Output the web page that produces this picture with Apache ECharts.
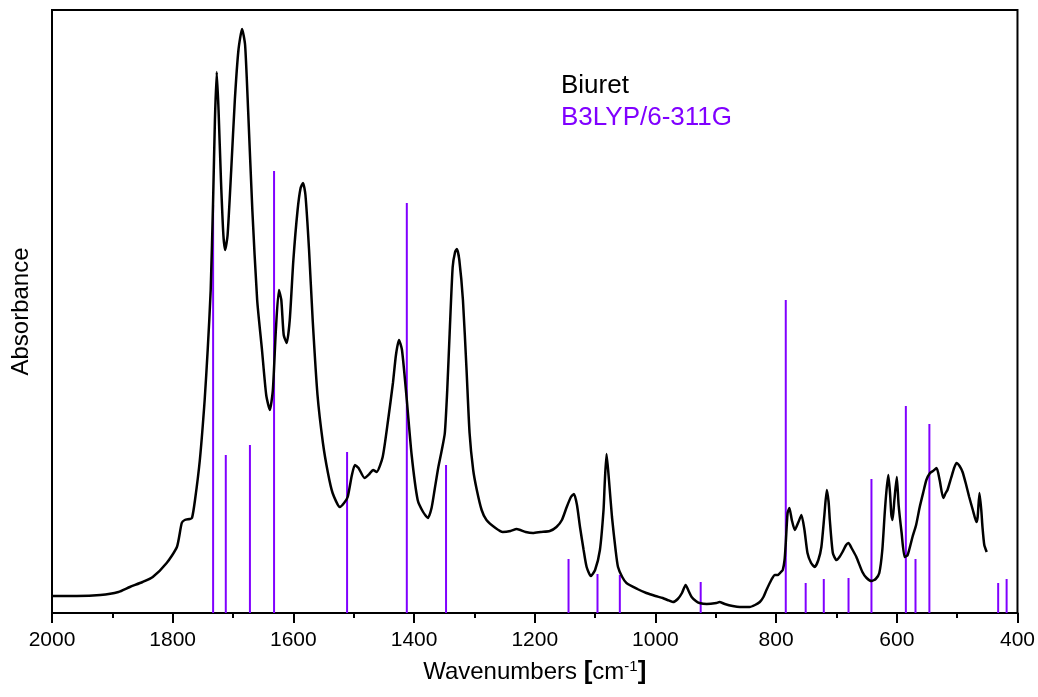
<!DOCTYPE html>
<html>
<head>
<meta charset="utf-8">
<script src="https://cdn.jsdelivr.net/npm/echarts@6/dist/echarts.min.js"></script>
<style>
html,body{margin:0;padding:0;background:#fff;}
#chart{width:1038px;height:697px;}
</style>
</head>
<body>
<div id="chart"></div>
<script>
// Experimental spectrum (wavenumber cm-1, absorbance in arbitrary units)
const expWavenumbers = [2000,1959,1920,1890,1871,1850,1833,1810,1793,1785,1780,1772,1768,1763,1755,1747,1742,1737,1733,1730,1727,1724,1720,1716,1713,1709,1703,1697,1691,1685,1680,1675,1668,1660,1652,1645,1639,1634,1629,1624,1620,1616,1611,1606,1600,1593,1588,1584,1580,1574,1568,1560,1551,1543,1535,1523,1516,1510,1503,1498,1492,1482,1474,1468,1462,1452,1443,1435,1430,1425,1420,1412,1404,1394,1385,1377,1371,1366,1360,1354,1349,1345,1341,1336,1332,1329,1325,1319,1313,1308,1302,1296,1288,1280,1265,1253,1240,1230,1215,1203,1190,1175,1164,1155,1147,1140,1135,1130,1125,1119,1114,1107,1100,1092,1086,1084,1081,1077,1072,1066,1062,1055,1048,1030,1015,1000,988,980,971,963,956,950,945,940,933,927,915,899,894,885,872,860,844,835,827,821,816,808,802,797,792,789,786,784,781,778,774,769,763,758,753,748,742,736,730,725,720,716,713,711,706,700,695,690,684,680,675,667,657,650,642,635,629,624,620,617,614,611,609,607,604,600,597,592,587,582,574,568,562,556,551,545,540,534,529,523,519,516,510,505,501,496,491,485,480,474,468,466,463,460,458,455,451];
const expAbsorbance = [17,17,18,21,26,31,36,50,66,90,93,94,95,113,153,213,263,323,413,493,541,503,433,378,363,378,443,513,563,584,568,503,403,313,263,218,203,223,283,323,313,278,270,293,353,403,425,430,418,363,293,218,170,141,120,106,110,116,138,148,145,135,139,143,141,156,193,230,258,273,263,213,158,113,101,95,105,123,145,163,180,223,280,346,361,364,353,313,243,180,143,123,103,93,85,81,82,84,81,80,81,82,86,93,106,116,119,108,86,63,46,37,43,63,103,130,159,133,96,63,46,36,30,24,20,17,15,13,11,14,20,28,22,16,12,10,9,10,11,9,7,6,6,8,11,16,23,33,38,38,41,43,53,70,100,105,93,83,91,98,83,60,50,46,53,66,98,123,111,93,60,53,56,61,68,70,65,56,41,35,32,34,40,63,100,123,138,118,98,93,113,136,108,80,56,58,76,88,106,121,133,140,142,145,133,115,120,123,135,145,150,147,141,128,116,103,91,96,120,103,86,68,61];

// Calculated B3LYP/6-311G stick spectrum
const calcWavenumbers = [1733,1712,1672,1632,1511,1412,1347,1144,1096,1059,925,784,751,721,680,642,585,569,546,432,418];
const calcIntensity   = [408,158,168,442,161,410,148,54,39,38,31,313,30,34,35,134,207,54,189,30,34];

const xTicks = [2000,1800,1600,1400,1200,1000,800,600,400];
const legendLabels = ['Biuret','B3LYP/6-311G'];

const BLACK = '#000000';
const VIOLET = '#8000ff';
const FONT = '"Liberation Sans", Arial, sans-serif';

const expData = expWavenumbers.map((w, i) => [w, expAbsorbance[i]]);
const calcData = calcWavenumbers.map((w, i) => [w, calcIntensity[i]]);

const chart = echarts.init(document.getElementById('chart'), null, {renderer: 'canvas'});
chart.setOption({
  animation: false,
  backgroundColor: '#ffffff',
  grid: {
    left: 52, right: 20, top: 10, bottom: 84,
    show: true, borderColor: BLACK, borderWidth: 2, backgroundColor: 'transparent'
  },
  xAxis: {
    type: 'value',
    inverse: true,
    min: xTicks[xTicks.length - 1],
    max: xTicks[0],
    interval: 200,
    axisLine: {show: true, onZero: false, lineStyle: {color: BLACK, width: 2}},
    axisTick: {show: true, length: 10, lineStyle: {color: BLACK, width: 2}},
    minorTick: {show: true, splitNumber: 2, length: 5, lineStyle: {color: BLACK, width: 2}},
    splitLine: {show: false},
    axisLabel: {color: BLACK, fontSize: 21, fontFamily: FONT, margin: 17,
      formatter: function (v) { return String(v); }},
    name: 'Wavenumbers {b|[}cm{sup|-1}{b|]}',
    nameLocation: 'middle',
    nameGap: 46,
    nameTextStyle: {
      color: BLACK, fontSize: 24, fontFamily: FONT,
      rich: {
        b: {fontSize: 26, fontWeight: 'bold', fontFamily: FONT, color: BLACK},
        sup: {fontSize: 15, fontFamily: FONT, color: BLACK, verticalAlign: 'top', padding: [0, 0, 11, 0]}
      }
    }
  },
  yAxis: {
    type: 'value',
    min: 0,
    max: 603,
    axisLine: {show: true, lineStyle: {color: BLACK, width: 2}},
    axisTick: {show: false},
    axisLabel: {show: false},
    splitLine: {show: false},
    name: 'Absorbance',
    nameLocation: 'middle',
    nameGap: 19,
    nameTextStyle: {color: BLACK, fontSize: 24, fontFamily: FONT}
  },
  series: [
    {
      name: legendLabels[1],
      type: 'custom',
      coordinateSystem: 'cartesian2d',
      data: calcData,
      encode: {x: 0, y: 1},
      renderItem: function (params, api) {
        const p0 = api.coord([api.value(0), 0]);
        const p1 = api.coord([api.value(0), api.value(1)]);
        return {
          type: 'line',
          shape: {x1: p0[0], y1: p0[1], x2: p1[0], y2: p1[1]},
          style: {stroke: VIOLET, lineWidth: 2}
        };
      },
      z: 2
    },
    {
      name: legendLabels[0],
      type: 'line',
      data: expData,
      showSymbol: false,
      symbol: 'none',
      smooth: 0.2,
      lineStyle: {color: BLACK, width: 2.5},
      z: 3
    }
  ],
  graphic: [
    {type: 'text', left: 561, top: 73, style: {text: legendLabels[0], fill: BLACK, font: '26px ' + FONT}},
    {type: 'text', left: 561, top: 105, style: {text: legendLabels[1], fill: VIOLET, font: '26px ' + FONT}}
  ]
});
</script>
</body>
</html>
